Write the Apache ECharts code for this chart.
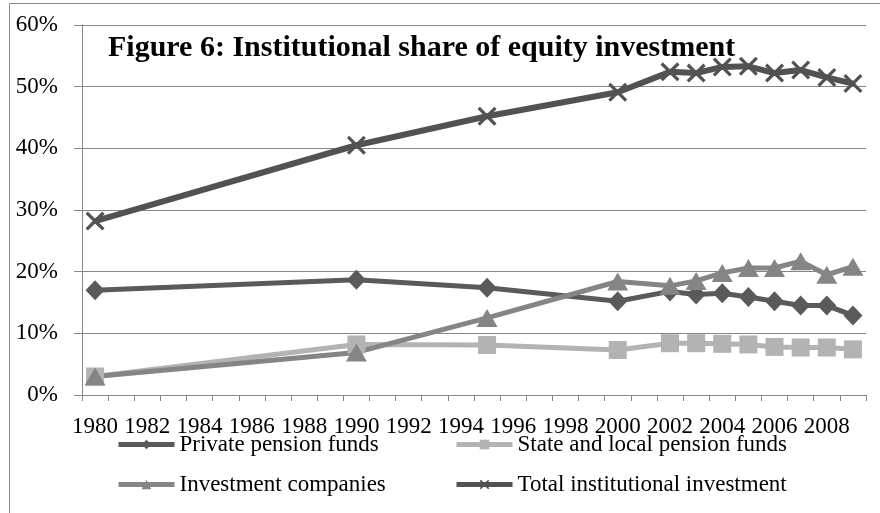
<!DOCTYPE html>
<html>
<head>
<meta charset="utf-8">
<script src="https://cdn.jsdelivr.net/npm/echarts@6/dist/echarts.min.js"></script>
<style>
html,body{margin:0;padding:0;background:#fff;}
#chart{width:880px;height:513px;}
</style>
</head>
<body>
<div id="chart"></div>
<script>
var categories = ['1980','1981','1982','1983','1984','1985','1986','1987','1988','1989',
  '1990','1991','1992','1993','1994','1995','1996','1997','1998','1999',
  '2000','2001','2002','2003','2004','2005','2006','2007','2008','2009'];
var dataYears = ['1980','1990','1995','2000','2002','2003','2004','2005','2006','2007','2008','2009'];
var privatePension = [17.0, 18.7, 17.4, 15.2, 16.8, 16.3, 16.5, 15.9, 15.2, 14.5, 14.5, 12.9];
var stateLocal     = [3.0, 8.2, 8.1, 7.3, 8.4, 8.4, 8.3, 8.2, 7.8, 7.7, 7.7, 7.4];
var investmentCos  = [3.0, 6.9, 12.5, 18.4, 17.7, 18.5, 19.8, 20.6, 20.6, 21.7, 19.5, 20.8];
var totalInst      = [28.2, 40.5, 45.2, 49.1, 52.4, 52.2, 53.2, 53.3, 52.2, 52.7, 51.5, 50.5];
var seriesNames = ['Private pension funds','State and local pension funds','Investment companies','Total institutional investment'];
var yTicks = [0, 10, 20, 30, 40, 50, 60];

function pairs(vals){ return dataYears.map(function(y,i){ return [y, vals[i]]; }); }

var FONT = 'Liberation Serif';
var xPath = 'path://M0,1.2L1.2,0L5,3.8L8.8,0L10,1.2L6.2,5L10,8.8L8.8,10L5,6.2L1.2,10L0,8.8L3.8,5Z';

var chart = echarts.init(document.getElementById('chart'), null, {renderer:'canvas'});
chart.setOption({
  animation: false,
  backgroundColor: '#ffffff',
  textStyle: {fontFamily: FONT},
  graphic: [{
    type: 'rect', z: -10, silent: true,
    shape: {x: 9.5, y: 3.5, width: 900, height: 600},
    style: {fill: 'none', stroke: '#868686', lineWidth: 1}
  }],
  title: {
    text: 'Figure 6: Institutional share of equity investment',
    left: 108, top: 33, padding: 0,
    textStyle: {fontFamily: FONT, fontSize: 30, fontWeight: 'bold', color: '#000'}
  },
  grid: {left: 82, right: 14, top: 25, bottom: 118, containLabel: false},
  xAxis: {
    type: 'category', data: categories, boundaryGap: true,
    axisLine: {show: true, lineStyle: {color: '#868686', width: 1}},
    axisTick: {show: true, interval: 0, length: 6, lineStyle: {color: '#868686'}},
    axisLabel: {interval: 1, margin: 20, fontFamily: FONT, fontSize: 23, color: '#000'},
    splitLine: {show: false}
  },
  yAxis: {
    type: 'value', min: yTicks[0], max: yTicks[yTicks.length-1], interval: 10,
    axisLine: {show: true, lineStyle: {color: '#868686', width: 1}},
    axisTick: {show: true, length: 8, lineStyle: {color: '#868686'}},
    axisLabel: {margin: 24, formatter: '{value}%', fontFamily: FONT, fontSize: 23, color: '#000'},
    splitLine: {show: true, lineStyle: {color: '#868686', width: 1}}
  },
  legend: [{
    orient: 'vertical', left: 116, top: 433, itemWidth: 56, itemHeight: 12, itemGap: 17, padding: 0,
    data: [seriesNames[0], seriesNames[2]],
    lineStyle: {width: 5},
    textStyle: {fontFamily: FONT, fontSize: 23, color: '#000'}
  },{
    orient: 'vertical', left: 454, top: 433, itemWidth: 56, itemHeight: 12, itemGap: 17, padding: 0,
    data: [seriesNames[1], seriesNames[3]],
    lineStyle: {width: 5},
    textStyle: {fontFamily: FONT, fontSize: 23, color: '#000'}
  }],
  series: [{
    name: seriesNames[0], type: 'line', data: pairs(privatePension), showAllSymbol: true,
    symbol: 'diamond', symbolSize: [19, 20],
    lineStyle: {color: '#5a5a5a', width: 5}, itemStyle: {color: '#5a5a5a'}
  },{
    name: seriesNames[1], type: 'line', data: pairs(stateLocal), showAllSymbol: true,
    symbol: 'rect', symbolSize: 18,
    lineStyle: {color: '#b3b3b3', width: 5}, itemStyle: {color: '#b3b3b3'}
  },{
    name: seriesNames[2], type: 'line', data: pairs(investmentCos), showAllSymbol: true,
    symbol: 'triangle', symbolSize: [21, 18],
    lineStyle: {color: '#858585', width: 5}, itemStyle: {color: '#858585'}
  },{
    name: seriesNames[3], type: 'line', data: pairs(totalInst), showAllSymbol: true,
    symbol: xPath, symbolSize: 19,
    lineStyle: {color: '#525252', width: 6}, itemStyle: {color: '#525252'}
  }]
});
</script>
</body>
</html>
